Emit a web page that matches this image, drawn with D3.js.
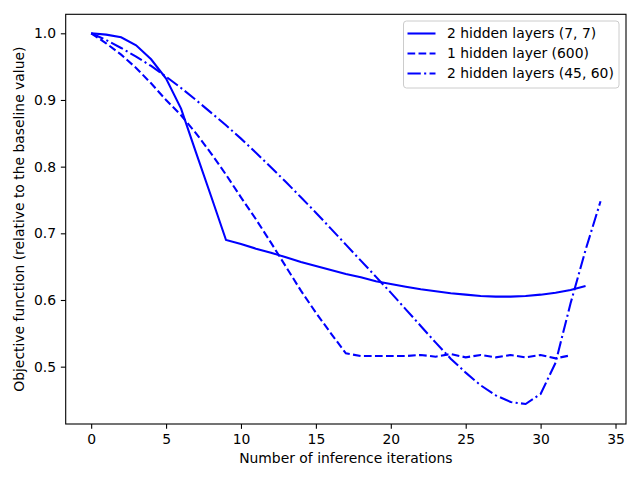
<!DOCTYPE html>
<html>
<head>
<meta charset="utf-8">
<script src="https://cdn.jsdelivr.net/npm/d3@7"></script>
<style>
  body { margin: 0; background: #fff; }
  text { font-family: "DejaVu Sans", sans-serif; fill: #000; }
</style>
</head>
<body>
<svg id="chart" width="640" height="480"></svg>
<script>
let width = 640;
let height = 480;
let margin = { top: 14.3, right: 14, bottom: 56, left: 65.7 };
let fontSize = 13.9;

// iterations
let itersA = d3.range(0, 34);
let itersB = d3.range(0, 33);
let itersC = d3.range(0, 35);

let labels = ["2 hidden layers (7, 7)", "1 hidden layer (600)", "2 hidden layers (45, 60)"];

let valuesA = [1.000, 0.998, 0.994, 0.982, 0.961, 0.932, 0.887, 0.821, 0.756, 0.690,
    0.684, 0.677, 0.671, 0.664, 0.657, 0.651, 0.645, 0.639, 0.634, 0.628,
    0.624, 0.620, 0.616, 0.613, 0.610, 0.608, 0.606, 0.605, 0.605, 0.606,
    0.608, 0.611, 0.615, 0.621];

let valuesB = [1.000, 0.985, 0.968, 0.948, 0.925, 0.900, 0.877, 0.850, 0.820, 0.788,
    0.754, 0.721, 0.686, 0.650, 0.614, 0.581, 0.550, 0.520, 0.516, 0.516,
    0.516, 0.516, 0.5175, 0.515, 0.519, 0.514, 0.5175, 0.514, 0.5175, 0.514,
    0.5175, 0.5125, 0.517];

let valuesC = [1.000, 0.990, 0.978, 0.965, 0.951, 0.935, 0.918, 0.900, 0.881, 0.862,
    0.842, 0.821, 0.799, 0.777, 0.754, 0.731, 0.707, 0.683, 0.659, 0.635,
    0.611, 0.586, 0.561, 0.536, 0.512, 0.491, 0.472, 0.457, 0.447, 0.444,
    0.459, 0.506, 0.595, 0.675, 0.748];

let xTicks = [0, 5, 10, 15, 20, 25, 30, 35];
let yTicks = [0.5, 0.6, 0.7, 0.8, 0.9, 1.0];

// matplotlib patterns, in px at 100 dpi
let dashes = ["none", "7.7,3.33", "13.3,3.33,2.08,3.33"];

let svg = d3.select("#chart");

let scaleX = d3.scaleLinear().domain([-1.7, 35.7]).range([margin.left, width - margin.right]);
let scaleY = d3.scaleLinear().domain([0.414, 1.0285]).range([height - margin.bottom, margin.top]);

let series = [
    { label: labels[0], x: itersA, y: valuesA, dash: dashes[0] },
    { label: labels[1], x: itersB, y: valuesB, dash: dashes[1] },
    { label: labels[2], x: itersC, y: valuesC, dash: dashes[2] }
];

let line = d3.line()
    .x(d => scaleX(d[0]))
    .y(d => scaleY(d[1]));

let plot = svg.append("g");
plot.append("clipPath").attr("id", "clip")
    .append("rect")
    .attr("x", margin.left).attr("y", margin.top)
    .attr("width", width - margin.right - margin.left)
    .attr("height", height - margin.bottom - margin.top);

series.forEach(s => {
    plot.append("path")
        .datum(s.x.map((v, i) => [v, s.y[i]]))
        .attr("clip-path", "url(#clip)")
        .attr("fill", "none")
        .attr("stroke", "#0000ff")
        .attr("stroke-width", 2.08)
        .attr("stroke-dasharray", s.dash)
        .attr("d", line);
});

// axes
let xAxis = d3.axisBottom(scaleX).tickValues(xTicks).tickFormat(d3.format("d"))
    .tickSizeInner(4.86).tickSizeOuter(0).tickPadding(4.86);
let yAxis = d3.axisLeft(scaleY).tickValues(yTicks).tickFormat(d3.format(".1f"))
    .tickSizeInner(4.86).tickSizeOuter(0).tickPadding(4.86);

let gx = svg.append("g")
    .attr("transform", "translate(0," + (height - margin.bottom) + ")")
    .call(xAxis);
let gy = svg.append("g")
    .attr("transform", "translate(" + margin.left + ",0)")
    .call(yAxis);

[gx, gy].forEach(g => {
    g.select(".domain").remove();
    g.selectAll(".tick line").attr("stroke", "#000").attr("stroke-width", 1.1);
    g.selectAll(".tick text").style("font-size", fontSize + "px").attr("fill", "#000");
});

// frame
svg.append("rect")
    .attr("x", margin.left).attr("y", margin.top)
    .attr("width", width - margin.right - margin.left)
    .attr("height", height - margin.bottom - margin.top)
    .attr("fill", "none")
    .attr("stroke", "#000")
    .attr("stroke-width", 1.1);

// axis labels
svg.append("text")
    .text("Number of inference iterations")
    .attr("x", (margin.left + width - margin.right) / 2)
    .attr("y", 463)
    .attr("text-anchor", "middle")
    .style("font-size", fontSize + "px");

svg.append("text")
    .text("Objective function (relative to the baseline value)")
    .attr("transform", "translate(24," + ((margin.top + height - margin.bottom) / 2) + ") rotate(-90)")
    .attr("text-anchor", "middle")
    .style("font-size", fontSize + "px");

// legend
let legend = svg.append("g");
legend.append("rect")
    .attr("x", 403.5).attr("y", 21)
    .attr("width", 215.5).attr("height", 67)
    .attr("rx", 3)
    .attr("fill", "#fff").attr("fill-opacity", 0.8)
    .attr("stroke", "#cccccc").attr("stroke-width", 1);

series.forEach((s, i) => {
    let yy = 33.5 + i * 20;
    legend.append("line")
        .attr("x1", 407.5).attr("x2", 435.5)
        .attr("y1", yy).attr("y2", yy)
        .attr("stroke", "#0000ff")
        .attr("stroke-width", 2.08)
        .attr("stroke-dasharray", s.dash);
    legend.append("text")
        .text(s.label)
        .attr("x", 447)
        .attr("y", yy)
        .attr("dy", "0.35em")
        .style("font-size", fontSize + "px");
});
</script>
</body>
</html>
